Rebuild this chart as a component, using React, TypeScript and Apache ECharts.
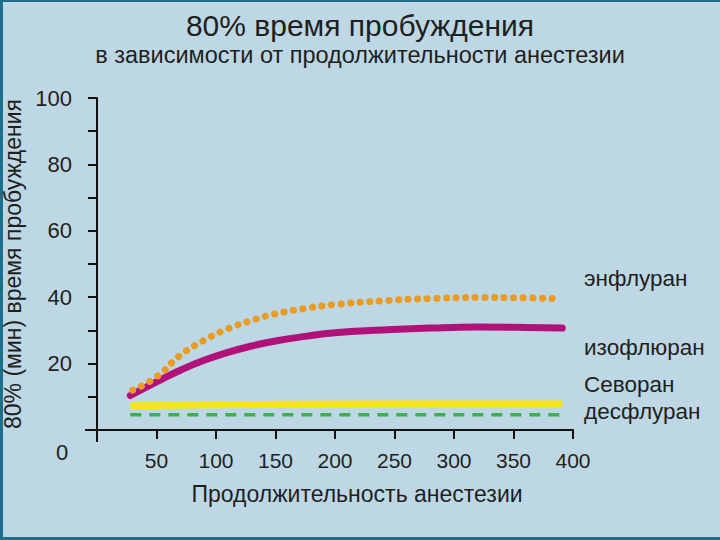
import React, { useEffect, useRef } from "react";
import * as echarts from "echarts";

const xTicks = [0, 50, 100, 150, 200, 250, 300, 350, 400];
const yLabels = [20, 40, 60, 80, 100];

const enfluraneX = [30, 50, 70, 90, 110, 130, 150, 175, 200, 240, 280, 320, 360, 383];
const enfluraneY = [12, 16, 22.5, 27, 30.5, 33, 35, 36.6, 37.8, 38.9, 39.6, 39.9, 39.8, 39.6];

const isofluraneX = [28, 50, 70, 90, 110, 130, 150, 175, 200, 240, 280, 320, 360, 391];
const isofluraneY = [10.4, 14.5, 18, 21, 23.4, 25.3, 26.8, 28.2, 29.3, 30.1, 30.7, 31, 30.9, 30.7];

const sevofluraneX = [28, 100, 200, 300, 391];
const sevofluraneY = [7.3, 7.6, 7.8, 7.9, 7.9];

const desfluraneX = [28, 100, 200, 300, 393];
const desfluraneY = [4.6, 4.6, 4.6, 4.6, 4.6];

const seriesNames = ["энфлуран", "изофлюран", "Севоран", "десфлуран"];

const zip = (xs: number[], ys: number[]) => xs.map((x, i) => [x, ys[i]]);

export default function App() {
  const ref = useRef<HTMLDivElement>(null);
  useEffect(() => {
    if (!ref.current) return;
    const chart = echarts.init(ref.current, null, { renderer: "svg" });
    const font = "'Liberation Sans', Arial, sans-serif";
    chart.setOption({
      animation: false,
      backgroundColor: "#bdd8e4",
      title: {
        text: "80% время пробуждения",
        subtext: "в зависимости от продолжительности анестезии",
        left: "center",
        top: 5,
        itemGap: 3,
        textStyle: { fontFamily: font, fontSize: 30, fontWeight: "normal", color: "#1f1f1f" },
        subtextStyle: { fontFamily: font, fontSize: 23.5, color: "#1f1f1f" },
      },
      grid: { left: 97, right: 147, top: 98, bottom: 110, outerBoundsMode: "none", containLabel: false },
      xAxis: {
        type: "value",
        min: 0,
        max: 400,
        interval: 50,
        name: "Продолжительность анестезии",
        nameLocation: "middle",
        nameGap: 52,
        nameTextStyle: { fontFamily: font, fontSize: 23, color: "#1f1f1f", padding: [0, 0, 0, 44] },
        axisLine: { show: true, lineStyle: { color: "#111", width: 2 } },
        axisTick: { show: true, length: 9, lineStyle: { color: "#111", width: 2 } },
        axisLabel: {
          fontFamily: font,
          fontSize: 21,
          color: "#1f1f1f",
          margin: 20,
          formatter: (v: number) => (v === 0 || !xTicks.includes(v) ? "" : String(v)),
        },
        splitLine: { show: false },
      },
      yAxis: {
        type: "value",
        min: 0,
        max: 100,
        interval: 10,
        name: "80% (мин) время пробуждения",
        nameLocation: "middle",
        nameGap: 60,
        nameRotate: 90,
        nameTextStyle: { fontFamily: font, fontSize: 23, color: "#1f1f1f" },
        axisLine: { show: true, lineStyle: { color: "#111", width: 2 } },
        axisTick: { show: true, length: 9, lineStyle: { color: "#111", width: 2 } },
        axisLabel: {
          fontFamily: font,
          fontSize: 22,
          color: "#1f1f1f",
          margin: 25,
          formatter: (v: number) => (yLabels.includes(v) ? String(v) : ""),
        },
        splitLine: { show: false },
      },
      series: [
        {
          name: seriesNames[0],
          type: "line",
          smooth: true,
          symbol: "none",
          data: zip(enfluraneX, enfluraneY),
          lineStyle: { color: "#e99b22", width: 7, type: [0.1, 9.5], cap: "round" },
          z: 3,
        },
        {
          name: seriesNames[1],
          type: "line",
          smooth: true,
          symbol: "none",
          data: zip(isofluraneX, isofluraneY),
          lineStyle: { color: "#b0127a", width: 7, cap: "round" },
          z: 2,
        },
        {
          name: seriesNames[2],
          type: "line",
          smooth: true,
          symbol: "none",
          data: zip(sevofluraneX, sevofluraneY),
          lineStyle: { color: "#f5e51b", width: 7 },
        },
        {
          name: seriesNames[3],
          type: "line",
          symbol: "none",
          data: zip(desfluraneX, desfluraneY),
          lineStyle: { color: "#3cb04a", width: 3.5, type: [11, 8] },
        },
      ],
      graphic: [
        { type: "rect", left: 0, top: 0, shape: { width: 720, height: 2 }, style: { fill: "#1e6e8c" } },
        { type: "rect", left: 0, top: 0, shape: { width: 3, height: 540 }, style: { fill: "#1e6e8c" } },
        { type: "rect", left: 0, top: 537, shape: { width: 720, height: 3 }, style: { fill: "#1e6e8c" } },
        { type: "line", shape: { x1: 85, y1: 430, x2: 97, y2: 430 }, style: { stroke: "#111", lineWidth: 2 } },
        { type: "line", shape: { x1: 97, y1: 430, x2: 97, y2: 442 }, style: { stroke: "#111", lineWidth: 2 } },
        { type: "text", x: 62, y: 452, style: { text: "0", font: `22px ${font}`, fill: "#1f1f1f", align: "center", verticalAlign: "middle" } },
        { type: "text", x: 584, y: 278, style: { text: seriesNames[0], font: `22.5px ${font}`, fill: "#1f1f1f", verticalAlign: "middle" } },
        { type: "text", x: 584, y: 347, style: { text: seriesNames[1], font: `22.5px ${font}`, fill: "#1f1f1f", verticalAlign: "middle" } },
        { type: "text", x: 584, y: 384, style: { text: seriesNames[2], font: `22.5px ${font}`, fill: "#1f1f1f", verticalAlign: "middle" } },
        { type: "text", x: 584, y: 411, style: { text: seriesNames[3], font: `22.5px ${font}`, fill: "#1f1f1f", verticalAlign: "middle" } },
      ],
    });
    return () => chart.dispose();
  }, []);
  return <div ref={ref} style={{ position: "absolute", left: 0, top: 0, width: 720, height: 540 }} />;
}
